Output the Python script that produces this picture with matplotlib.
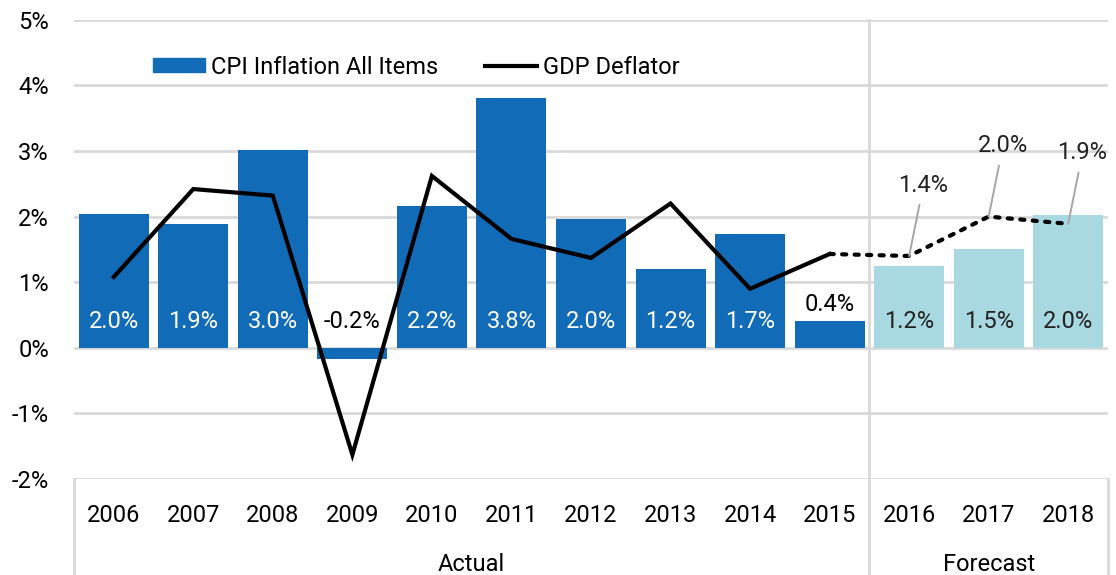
import matplotlib.pyplot as plt
import numpy as np
from matplotlib.patches import Patch
from matplotlib.lines import Line2D

plt.rcParams['font.family'] = ['Roboto', 'DejaVu Sans']

years = ['2006', '2007', '2008', '2009', '2010', '2011', '2012',
         '2013', '2014', '2015', '2016', '2017', '2018']
cpi = [2.04, 1.89, 3.02, -0.17, 2.16, 3.81, 1.96, 1.2, 1.74, 0.41, 1.24, 1.5, 2.02]
gdp = [1.08, 2.42, 2.32, -1.63, 2.62, 1.66, 1.37, 2.2, 0.9, 1.43, 1.4, 2.0, 1.89]
n_actual = 10
groups = ['Actual', 'Forecast']

blue = '#116bb6'
light = '#a8d8e0'
grid = '#d9d9d9'
fs = 17

fig = plt.figure(figsize=(11.16, 5.75), dpi=100)
ax = fig.add_axes([0.0663, 0.167, 0.9265, 0.7985])

x = np.arange(len(years))
colors = [blue] * n_actual + [light] * (len(years) - n_actual)
ax.bar(x, cpi, width=0.88, color=colors, zorder=2)

# deflator line: solid for actual, dotted for forecast
ax.plot(x[:n_actual], gdp[:n_actual], color='black', lw=3,
        solid_joinstyle='miter', zorder=3)
ax.plot(x[n_actual - 1:], gdp[n_actual - 1:], color='black', lw=3,
        linestyle=(0, (1, 2)), dash_capstyle='round', zorder=3)

# bar labels
for i, v in enumerate(cpi):
    if v >= 0.8:
        y = 0.4
        c = 'white' if i < n_actual else '#222222'
    elif v < 0:
        y = 0.4
        c = 'black'
    else:
        y = v + 0.25
        c = 'black'
    ax.text(i, y, f'{v:.1f}%', ha='center', va='center', color=c, fontsize=fs, zorder=4)

# forecast deflator labels with leaders
for i in range(n_actual, len(years)):
    ax.annotate(f'{gdp[i]:.1f}%', xy=(i, gdp[i]), xytext=(i + 0.18, gdp[i] + 1.08),
                ha='center', va='center', fontsize=fs, color='#222222',
                arrowprops=dict(arrowstyle='-', color='#a6a6a6', lw=1.4,
                                shrinkA=4, shrinkB=0), zorder=4)

ax.set_xlim(-0.5, len(years) - 0.5)
ax.set_ylim(-2, 5)
ax.set_yticks(range(-2, 6))
ax.set_yticklabels([f'{t}%' for t in range(-2, 6)], fontsize=fs)
ax.set_xticks(x)
ax.set_xticklabels(years, fontsize=fs)
ax.tick_params(length=0)
ax.tick_params(axis='y', pad=18)
ax.tick_params(axis='x', pad=18)
ax.grid(axis='y', color=grid, lw=2, zorder=0)
for s in ax.spines.values():
    s.set_visible(False)

# group separators and labels
tr = ax.get_xaxis_transform()
bottom = -0.215
ax.plot([n_actual - 0.5] * 2, [bottom, 1], color=grid, lw=2, transform=tr, clip_on=False, zorder=1)
ax.plot([-0.5] * 2, [bottom, 0], color=grid, lw=2, transform=tr, clip_on=False)
ax.plot([len(years) - 0.5] * 2, [bottom, 0], color=grid, lw=2, transform=tr, clip_on=False)
ax.text((n_actual - 1) / 2, -0.187, groups[0], ha='center', va='center',
        fontsize=fs, transform=tr)
ax.text((n_actual + len(years) - 1) / 2, -0.187, groups[1], ha='center', va='center',
        fontsize=fs, transform=tr)

handles = [Patch(color=blue), Line2D([0], [0], color='black', lw=3)]
ax.legend(handles, ['CPI Inflation All Items', 'GDP Deflator'], ncol=2,
          loc='center', bbox_to_anchor=(0.331, 0.897), frameon=False,
          fontsize=fs, handlelength=2.2, handleheight=0.55,
          handletextpad=0.25, columnspacing=2.0)

fig.savefig('out.png', dpi=100)
